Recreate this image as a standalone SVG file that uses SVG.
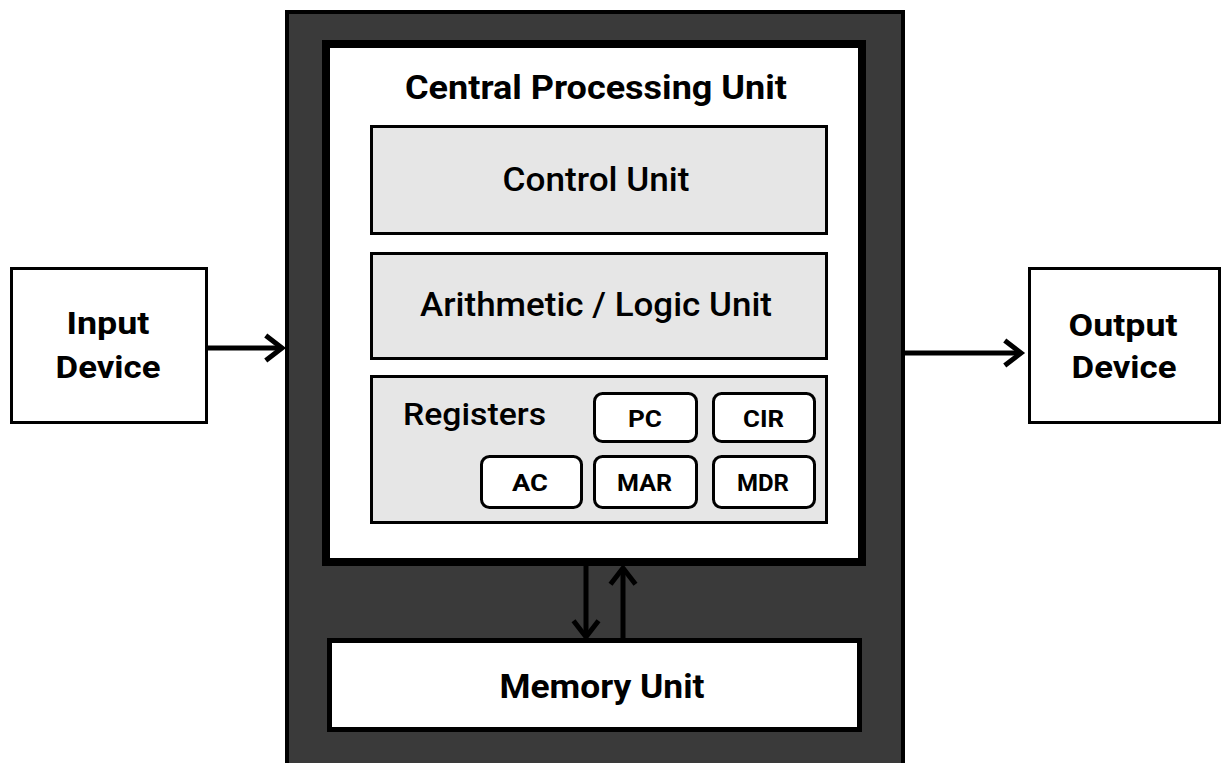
<svg xmlns="http://www.w3.org/2000/svg" width="1222" height="763" viewBox="0 0 1222 763">
<defs>
<style>
.box{fill:#fff;stroke:#000;}
.unit{fill:#e6e6e6;stroke:#000;stroke-width:3;}
.reg{fill:#fff;stroke:#000;stroke-width:3;}
.t{font-family:Roboto,"Liberation Sans",sans-serif;fill:#000;text-anchor:middle;}
.b{font-weight:bold;}
.m{font-weight:500;}
.conn{stroke:#000;stroke-width:5;fill:none;marker-end:url(#arr);}
</style>
<marker id="arr" markerUnits="userSpaceOnUse" markerWidth="30" markerHeight="30" viewBox="-16 -12 20 24" refX="0" refY="0" orient="auto">
<path d="M-13,-10 L0,0 L-13,10" fill="none" stroke="#000" stroke-width="4"/>
</marker>
</defs>
<rect width="1222" height="763" fill="#fff"/>
<g id="computer">
<rect x="287" y="12" width="616" height="760" fill="#3a3a3a" stroke="#000" stroke-width="4"/>
</g>
<g id="cpu">
<rect class="box" x="326" y="44" width="536" height="518" stroke-width="8"/>
<text class="t b" x="596" y="99" font-size="34" textLength="382" lengthAdjust="spacingAndGlyphs">Central Processing Unit</text>
</g>
<g id="control-unit">
<rect class="unit" x="371.5" y="126.5" width="455" height="107"/>
<text class="t m" x="596" y="191" font-size="34" textLength="187" lengthAdjust="spacingAndGlyphs">Control Unit</text>
</g>
<g id="alu">
<rect class="unit" x="371.5" y="253.5" width="455" height="105"/>
<text class="t m" x="596" y="316" font-size="33" textLength="352" lengthAdjust="spacingAndGlyphs">Arithmetic / Logic Unit</text>
</g>
<g id="registers">
<rect class="unit" x="371.5" y="376.5" width="455" height="146"/>
<text class="t m" x="474.5" y="425" font-size="32" textLength="143" lengthAdjust="spacingAndGlyphs">Registers</text>
</g>
<g id="reg-pc">
<rect class="reg" x="594.5" y="393.5" width="102" height="48" rx="8"/>
<text class="t b" x="645" y="427" font-size="24" textLength="34" lengthAdjust="spacingAndGlyphs">PC</text>
</g>
<g id="reg-cir">
<rect class="reg" x="713.5" y="393.5" width="101" height="48" rx="8"/>
<text class="t b" x="763.5" y="427" font-size="24" textLength="41" lengthAdjust="spacingAndGlyphs">CIR</text>
</g>
<g id="reg-ac">
<rect class="reg" x="481.5" y="456.5" width="100" height="51" rx="8"/>
<text class="t b" x="530" y="491" font-size="24" textLength="36" lengthAdjust="spacingAndGlyphs">AC</text>
</g>
<g id="reg-mar">
<rect class="reg" x="594.5" y="456.5" width="102" height="51" rx="8"/>
<text class="t b" x="644.5" y="491" font-size="24" textLength="55" lengthAdjust="spacingAndGlyphs">MAR</text>
</g>
<g id="reg-mdr">
<rect class="reg" x="713.5" y="456.5" width="101" height="51" rx="8"/>
<text class="t b" x="763" y="491" font-size="24" textLength="52" lengthAdjust="spacingAndGlyphs">MDR</text>
</g>
<g id="memory">
<rect class="box" x="329.5" y="640.5" width="530" height="89" stroke-width="5"/>
<text class="t b" x="602" y="698" font-size="33" textLength="205" lengthAdjust="spacingAndGlyphs">Memory Unit</text>
</g>
<g id="input">
<rect class="box" x="11.5" y="268.5" width="195" height="154" stroke-width="3"/>
<text class="t b" x="108" y="334" font-size="31" textLength="83" lengthAdjust="spacingAndGlyphs">Input</text>
<text class="t b" x="108" y="378" font-size="31" textLength="105" lengthAdjust="spacingAndGlyphs">Device</text>
</g>
<g id="output">
<rect class="box" x="1029.5" y="268.5" width="190" height="154" stroke-width="3"/>
<text class="t b" x="1123" y="336" font-size="31" textLength="109" lengthAdjust="spacingAndGlyphs">Output</text>
<text class="t b" x="1124" y="378" font-size="31" textLength="105" lengthAdjust="spacingAndGlyphs">Device</text>
</g>
<g id="connectors">
<line class="conn" x1="207" y1="348" x2="282" y2="348"/>
<line class="conn" x1="904" y1="353" x2="1021" y2="353"/>
<line class="conn" x1="586" y1="566" x2="586" y2="637"/>
<line class="conn" x1="623" y1="638" x2="623" y2="568"/>
</g>
</svg>
